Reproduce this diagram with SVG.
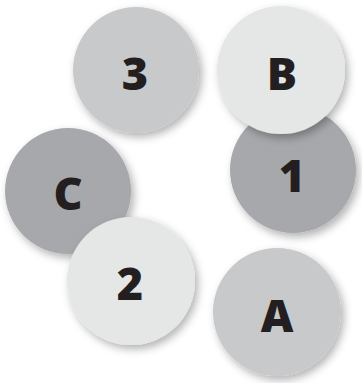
<svg xmlns="http://www.w3.org/2000/svg" width="362" height="383" viewBox="0 0 362 383">
<defs>
<filter id="sh" x="-30%" y="-30%" width="160%" height="160%">
<feDropShadow dx="3" dy="4" stdDeviation="4" flood-color="#000" flood-opacity="0.3"/>
</filter>
<style>
circle{filter:url(#sh)}
.dark{fill:#a7a8ab}
.mid{fill:#c8c9cb}
.light{fill:#e5e6e6}
text{font-family:"Open Sans","Liberation Sans",sans-serif;font-weight:800;font-size:45px;fill:#231f20;text-anchor:middle}
</style>
</defs>
<rect width="362" height="383" fill="#fff"/>
<g id="node-C"><circle class="dark" cx="68" cy="191" r="63"/><text x="68" y="210">C</text></g>
<g id="node-1"><circle class="dark" cx="293" cy="170" r="63"/><text x="292" y="192">1</text></g>
<g id="node-3"><circle class="mid" cx="136" cy="70" r="63"/><text x="135" y="90">3</text></g>
<g id="node-A"><circle class="mid" cx="277" cy="312" r="64"/><text x="277" y="332">A</text></g>
<g id="node-2"><circle class="light" cx="131" cy="281" r="64"/><text x="130" y="300">2</text></g>
<g id="node-B"><circle class="light" cx="281" cy="70" r="64"/><text x="282" y="90">B</text></g>
<g id="connectors"></g>
</svg>
